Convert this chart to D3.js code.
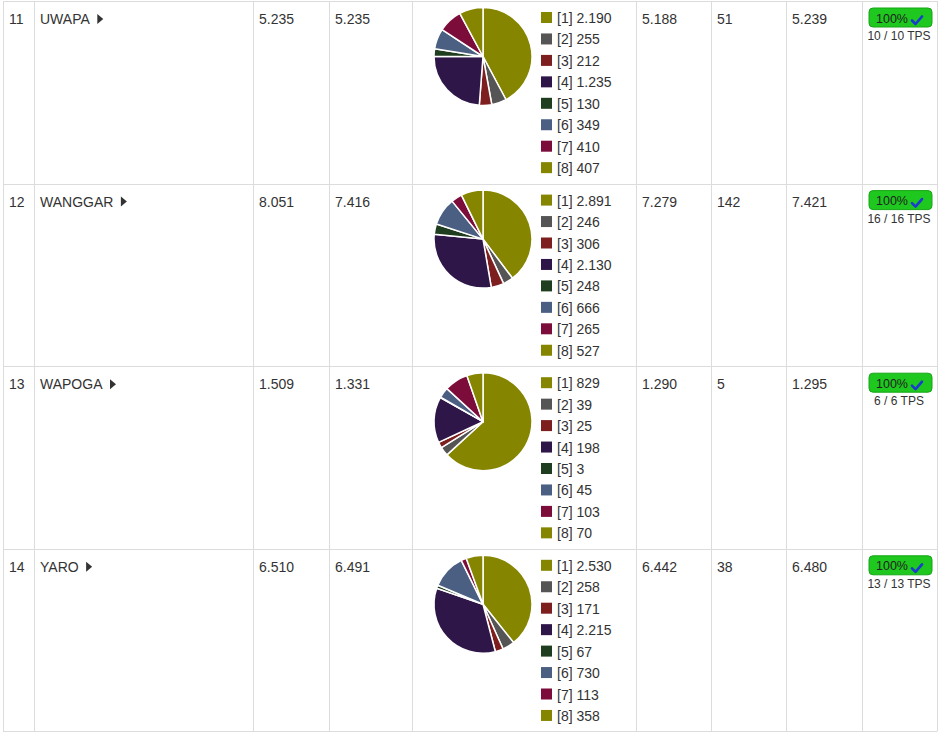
<!DOCTYPE html>
<html>
<head>
<meta charset="utf-8">
<script src="https://cdn.jsdelivr.net/npm/d3@7"></script>
<style>
  body { margin: 0; background: #fff; }
  svg text { font-family: "Liberation Sans", Arial, sans-serif; fill: #333; }
</style>
</head>
<body>
<div id="chart"></div>
<script>
// table data
const rowIds = [11, 12, 13, 14];
const names = ["UWAPA", "WANGGAR", "WAPOGA", "YARO"];
const colA = [5235, 8051, 1509, 6510];
const colB = [5235, 7416, 1331, 6491];
const pieLabels = ["[1]", "[2]", "[3]", "[4]", "[5]", "[6]", "[7]", "[8]"];
const pieValues = [
  [2190, 255, 212, 1235, 130, 349, 410, 407],
  [2891, 246, 306, 2130, 248, 666, 265, 527],
  [829, 39, 25, 198, 3, 45, 103, 70],
  [2530, 258, 171, 2215, 67, 730, 113, 358]
];
const colC = [5188, 7279, 1290, 6442];
const colD = [51, 142, 5, 38];
const colE = [5239, 7421, 1295, 6480];
const tpsDone = [10, 16, 6, 13];
const tpsTotal = [10, 16, 6, 13];
const pieColors = ["#858500", "#555555", "#7d1f1f", "#2e1748", "#1f3d1f", "#4b5f82", "#7c0d3b", "#858500"];

const W = 938, H = 733;
const colX = [3, 34, 253, 329, 412, 636, 711, 786, 862, 937];
const rowTop = 1, rowH = 182.6;

const loc = d3.formatLocale({decimal: ",", thousands: ".", grouping: [3], currency: ["", ""]});
const fmt = loc.format(",d");

const svg = d3.select("#chart").append("svg")
  .attr("width", W).attr("height", H);

const y = d3.scaleLinear().domain([0, rowIds.length]).range([rowTop, rowTop + rowH * rowIds.length]);

// grid
const grid = svg.append("g").attr("stroke", "#dcdcdc").attr("stroke-width", 1);
d3.range(rowIds.length + 1).forEach(i => {
  grid.append("line").attr("x1", colX[0]).attr("x2", colX[colX.length - 1])
    .attr("y1", Math.round(y(i)) + 0.5).attr("y2", Math.round(y(i)) + 0.5);
});
colX.forEach(x => {
  grid.append("line").attr("x1", x + 0.5).attr("x2", x + 0.5)
    .attr("y1", y(0)).attr("y2", y(rowIds.length));
});

const color = d3.scaleOrdinal().domain(d3.range(8)).range(pieColors);
const pie = d3.pie().sort(null).value(d => d);
const arc = d3.arc().innerRadius(0).outerRadius(49);

const rows = svg.selectAll("g.row").data(rowIds).join("g")
  .attr("class", "row")
  .attr("transform", (d, i) => `translate(0,${y(i)})`);

rows.each(function(id, i) {
  const g = d3.select(this);
  const base = 23;
  g.append("text").attr("x", colX[0] + 6).attr("y", base).style("font-size", "14px").text(id);
  const nm = g.append("text").attr("x", colX[1] + 6).attr("y", base).style("font-size", "14px").text(names[i]);
  const tw = nm.node().getComputedTextLength();
  const tx = colX[1] + 6 + tw + 7.5;
  g.append("path").attr("d", `M${tx},${base - 10}L${tx + 6},${base - 5}L${tx},${base}Z`).attr("fill", "#333");

  g.append("text").attr("x", colX[2] + 6).attr("y", base).style("font-size", "14px").text(fmt(colA[i]));
  g.append("text").attr("x", colX[3] + 6).attr("y", base).style("font-size", "14px").text(fmt(colB[i]));
  g.append("text").attr("x", colX[5] + 6).attr("y", base).style("font-size", "14px").text(fmt(colC[i]));
  g.append("text").attr("x", colX[6] + 6).attr("y", base).style("font-size", "14px").text(fmt(colD[i]));
  g.append("text").attr("x", colX[7] + 6).attr("y", base).style("font-size", "14px").text(fmt(colE[i]));

  // pie
  const pg = g.append("g").attr("transform", "translate(483,55.5)");
  pg.selectAll("path").data(pie(pieValues[i])).join("path")
    .attr("d", arc)
    .attr("fill", (d, k) => color(k))
    .attr("stroke", "#fff")
    .attr("stroke-width", 1.5)
    .attr("stroke-linejoin", "round");

  // legend
  const lg = g.append("g").selectAll("g").data(pieValues[i]).join("g")
    .attr("transform", (d, k) => `translate(541,${11 + k * 21.45})`);
  lg.append("rect").attr("width", 11).attr("height", 11).attr("fill", (d, k) => color(k));
  lg.append("text").attr("x", 16).attr("y", 11).style("font-size", "14px")
    .text((d, k) => pieLabels[k] + " " + fmt(d));

  // badge
  const bx = 869, by = 7, bw = 63, bh = 19;
  g.append("rect").attr("x", bx).attr("y", by).attr("width", bw).attr("height", bh)
    .attr("rx", 4).attr("fill", "#1ec81e").attr("stroke", "#16a516").attr("stroke-width", 1);
  g.append("text").attr("x", 876).attr("y", 21.5).style("font-size", "12.5px").style("fill", "#222")
    .text(d3.format(".0%")(tpsDone[i] / tpsTotal[i]));
  g.append("path").attr("d", "M912,19.5 L915.5,23 L922,15.5")
    .attr("fill", "none").attr("stroke", "#1a3ad0").attr("stroke-width", 2.6)
    .attr("stroke-linecap", "round").attr("stroke-linejoin", "round");
  g.append("text").attr("x", 899).attr("y", 39).attr("text-anchor", "middle")
    .style("font-size", "12px").text(`${tpsDone[i]} / ${tpsTotal[i]} TPS`);
});
</script>
</body>
</html>
